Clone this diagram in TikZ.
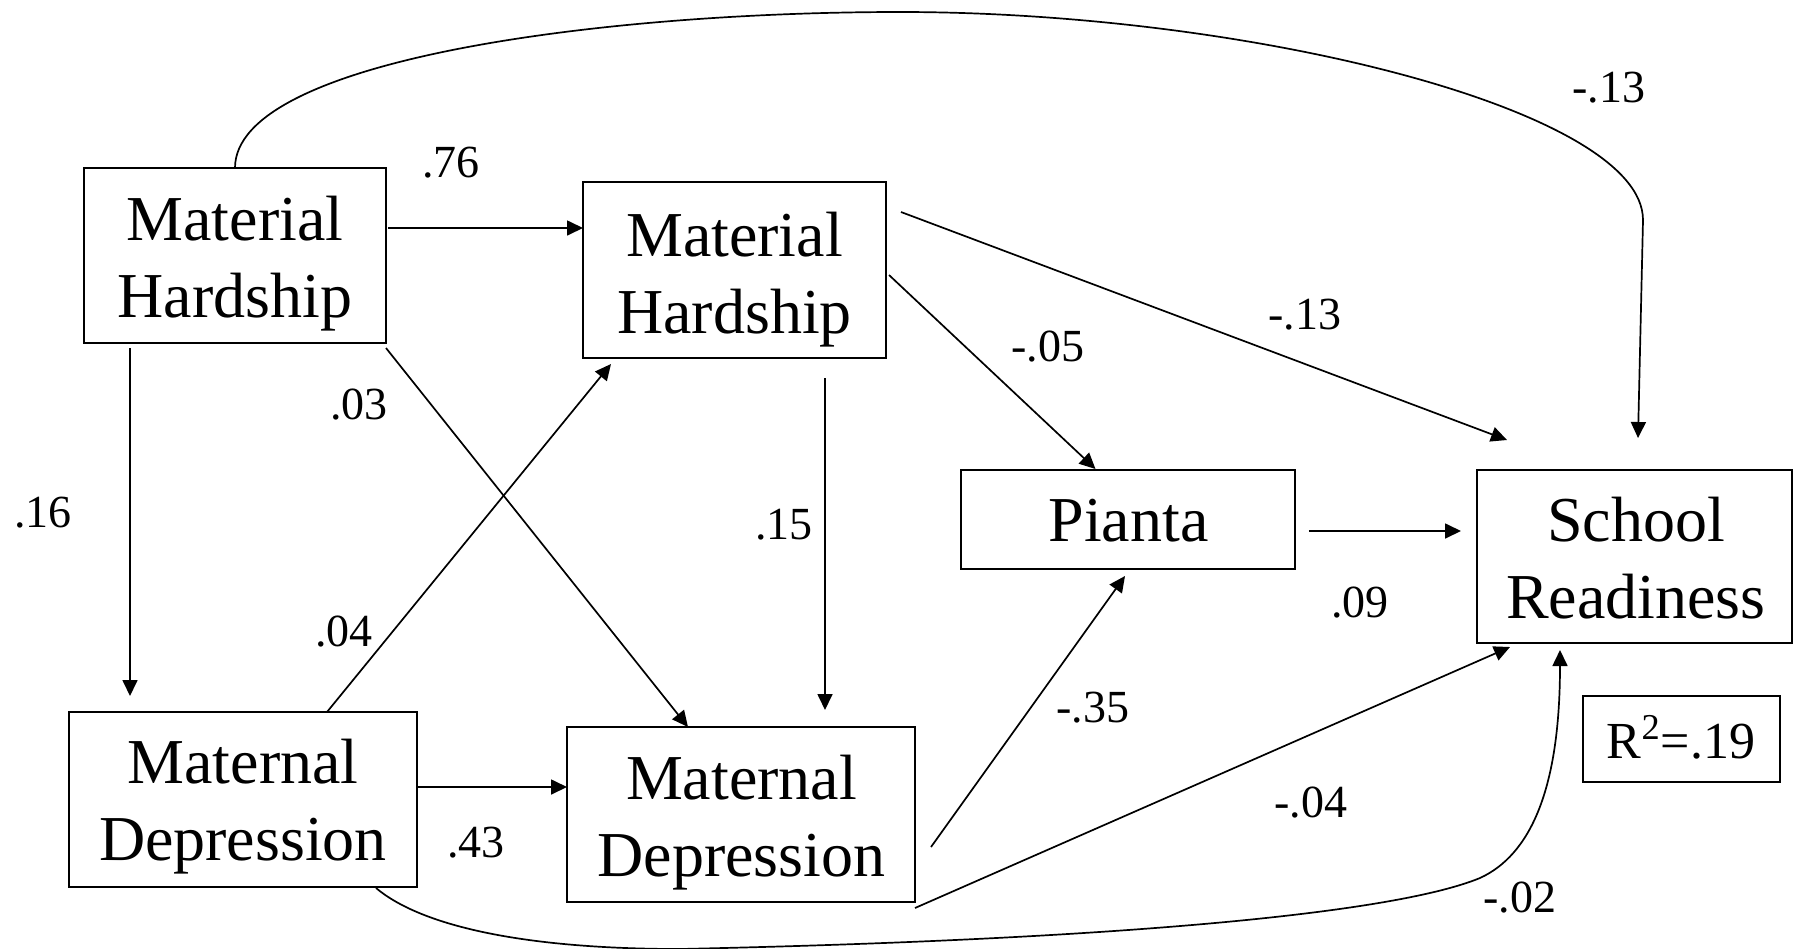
\documentclass[tikz,border=0pt]{standalone}
\usepackage{fontspec}
\setmainfont{Liberation Serif}
\usetikzlibrary{arrows.meta,calc}
\begin{document}
\begin{tikzpicture}[x=0.5pt,y=-0.5pt,
  box/.style={draw,line width=1.2pt,inner sep=0pt,outer sep=0pt},
  boxtext/.style={anchor=base,align=center,font=\fontsize{32}{38.5}\selectfont,inner sep=0pt},
  lab/.style={font=\fontsize{23}{27}\selectfont,inner sep=0pt},
  conn/.style={line width=0.85pt,-{Triangle[length=8pt,width=7.5pt]}}]
\useasboundingbox (0,0) rectangle (1799,948);
% boxes
\node[box,minimum width=151pt,minimum height=87.5pt] (a) at (235,255.5) {};
\node[box,minimum width=151.5pt,minimum height=88pt] (b) at (734.5,270) {};
\node[box,minimum width=174pt,minimum height=87.5pt] (c) at (243,799.5) {};
\node[box,minimum width=174pt,minimum height=87.5pt] (d) at (741,814.5) {};
\node[box,minimum width=166.75pt,minimum height=49.5pt] (p) at (1128,519.5) {};
\node[box,minimum width=157.5pt,minimum height=86.5pt] (s) at (1634.5,556.5) {};
\node[box,minimum width=98.5pt,minimum height=43pt] (r) at (1681.5,739) {};
% box texts (anchor = baseline of the last line)
\node[boxtext] (at) at (235,317) {Material\\Hardship};
\node[boxtext] (bt) at (734.5,333) {Material\\Hardship};
\node[boxtext] (ct) at (243,860) {Maternal\\Depression};
\node[boxtext] (dt) at (741.5,876) {Maternal\\Depression};
\node[boxtext] (pt) at (1128.5,541.5) {Pianta};
\node[boxtext] (st) at (1636,618) {School\\Readiness};
\node[anchor=base,inner sep=0pt,font=\fontsize{26}{30}\selectfont] (rt) at (1681,758) {R\textsuperscript{2}=.19};
% connectors
\draw[conn] ($(a.east)+(2,-27.5)$) -- ($(b.west)+(0,-42)$);
\draw[conn] ($(a.south)+(-105,5)$) -- ($(c.north)+(-113,-16)$);
\draw[conn] ($(a.south east)+(0,5)$) -- ($(d.north)+(-53,0)$);
\draw[conn] ($(c.north)+(84,0)$) -- ($(b.south)+(-123.5,6)$);
\draw[conn] ($(b.south)+(90.5,20)$) -- ($(d.north)+(84,-17)$);
\draw[conn] ($(c.east)+(1,-12.5)$) -- ($(d.west)+(0,-27.5)$);
\draw[conn] ($(b.east)+(3,5)$) -- ($(p.north)+(-32.5,-1)$);
\draw[conn] ($(b.north east)+(15,30)$) -- ($(s.north)+(-127.5,-30)$);
\draw[conn] ($(p.east)+(14,11.5)$) -- ($(s.west)+(-16,-25.5)$);
\draw[conn] ($(d.east)+(16,32.5)$) -- ($(p.south)+(-3,7)$);
\draw[conn] ($(d.south east)+(0,6)$) -- ($(s.south)+(-124.5,4)$);
\draw[conn] ($(c.south)+(133,1)$) .. controls (420,925) and (520,949) .. (680,949)
  .. controls (1100,940) and (1390,915) .. (1480,878)
  .. controls (1530,855) and (1560,790) .. ($(s.south)+(-74.5,7)$);
\draw[conn] (a.north) .. controls (235,60) and (600,12) .. (900,12)
  .. controls (1250,12) and (1643,110) .. (1643,220) -- ($(s.north)+(3.5,-32)$);
% labels
\node[lab] (l76) at (451,163) {.76};
\node[lab] (l16) at (43,513) {.16};
\node[lab] (l03) at (359,405) {.03};
\node[lab] (l04) at (344,632) {.04};
\node[lab] (l15) at (784,525) {.15};
\node[lab] (l43) at (476,843) {.43};
\node[lab] (l05) at (1048,347) {-.05};
\node[lab] (l13a) at (1305,315) {-.13};
\node[lab] (l13b) at (1609,88) {-.13};
\node[lab] (l09) at (1360,603) {.09};
\node[lab] (l35) at (1093,708) {-.35};
\node[lab] (l04b) at (1311,803) {-.04};
\node[lab] (l02) at (1520,898) {-.02};
\end{tikzpicture}
\end{document}
